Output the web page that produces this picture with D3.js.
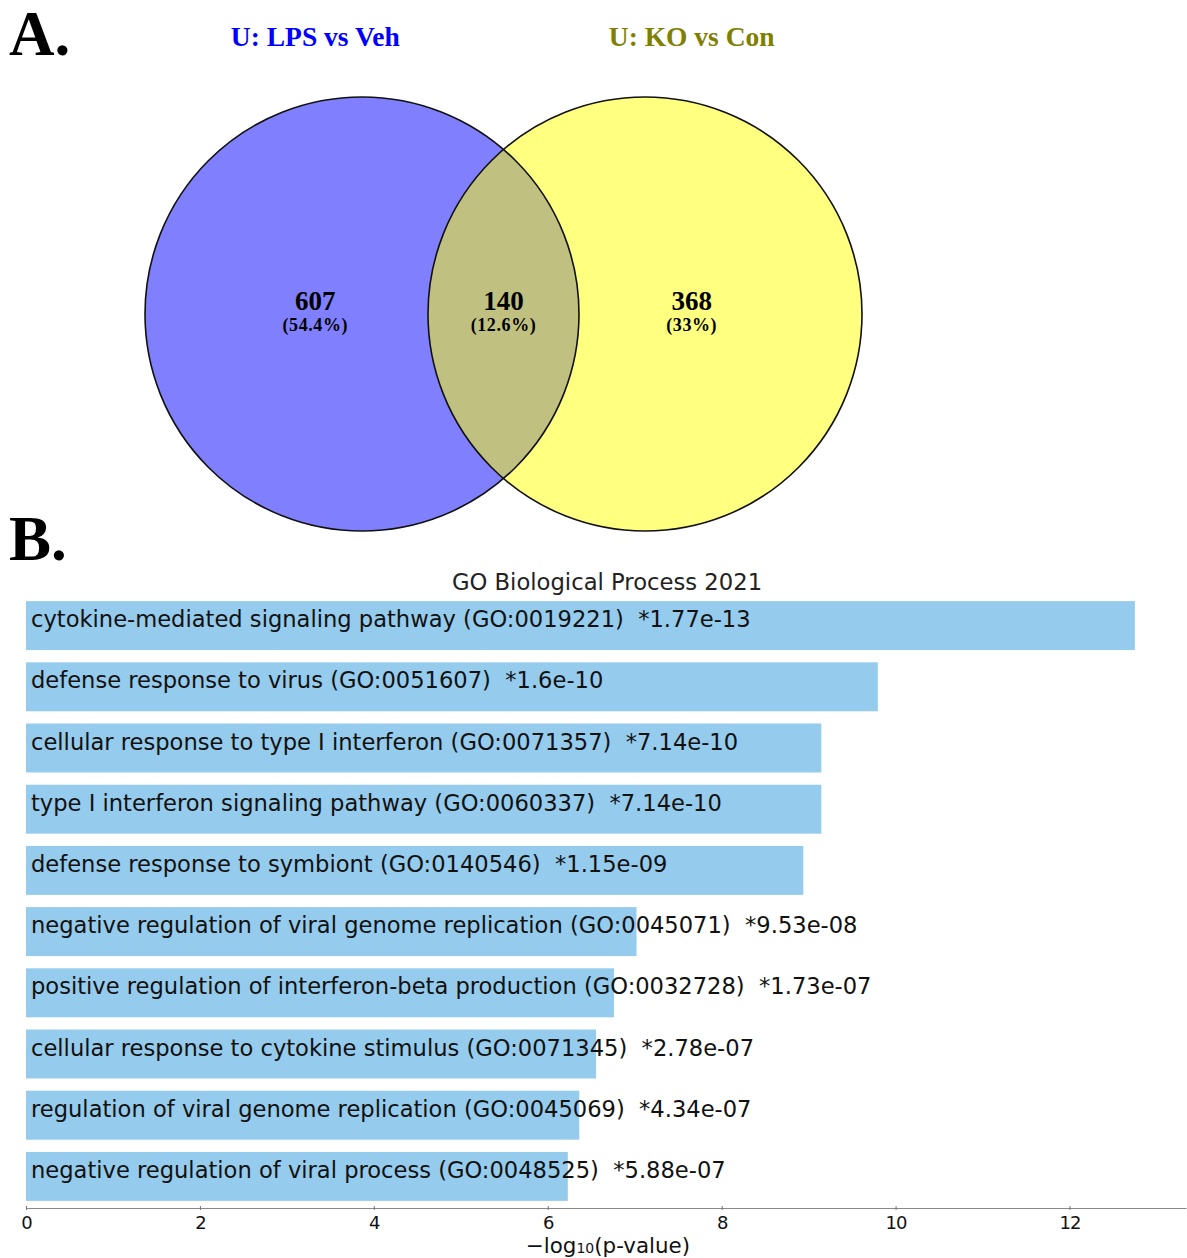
<!DOCTYPE html>
<html>
<head>
<meta charset="utf-8">
<script src="https://cdn.jsdelivr.net/npm/d3@7"></script>
<style>
  body { margin: 0; background: #fff; }
  svg { display: block; }
</style>
</head>
<body>
<div id="chart"></div>
<script>
// Venn data
const setNames = ["U: LPS vs Veh", "U: KO vs Con"];
const setColors = ["#0000ff", "#808000"];
const circleFills = ["#8080ff", "#ffff80"];
const regionCounts = [607, 140, 368];
const regionPercents = ["54.4%", "12.6%", "33%"];

// GO enrichment data
const terms = [
  "cytokine-mediated signaling pathway (GO:0019221)",
  "defense response to virus (GO:0051607)",
  "cellular response to type I interferon (GO:0071357)",
  "type I interferon signaling pathway (GO:0060337)",
  "defense response to symbiont (GO:0140546)",
  "negative regulation of viral genome replication (GO:0045071)",
  "positive regulation of interferon-beta production (GO:0032728)",
  "cellular response to cytokine stimulus (GO:0071345)",
  "regulation of viral genome replication (GO:0045069)",
  "negative regulation of viral process (GO:0048525)"
];
const pValues = ["1.77e-13", "1.6e-10", "7.14e-10", "7.14e-10", "1.15e-09",
                 "9.53e-08", "1.73e-07", "2.78e-07", "4.34e-07", "5.88e-07"];
const xTicks = [0, 2, 4, 6, 8, 10, 12];

const W = 1187, H = 1258;
const svg = d3.select("#chart").append("svg")
    .attr("width", W).attr("height", H);

const serif = "'Liberation Serif', 'Times New Roman', serif";
const sans = "'DejaVu Sans', sans-serif";

// ---------- panel letters ----------
svg.append("text").attr("x", 9).attr("y", 55).text("A.")
    .style("font-family", serif).style("font-weight", "bold").style("font-size", "63px");
svg.append("text").attr("x", 9).attr("y", 560).text("B.")
    .style("font-family", serif).style("font-weight", "bold").style("font-size", "63px");

// ---------- Venn ----------
// unit coordinates: circle centres at 0 and 1
const vx = d3.scaleLinear().domain([0, 1]).range([362, 645]);
const vr = 217, vcy = 314;
const circles = [0, 1];

const vennG = svg.append("g");
vennG.selectAll("circle.fill").data(circles).enter().append("circle")
    .attr("cx", d => vx(d)).attr("cy", vcy).attr("r", vr)
    .attr("fill", (d, i) => circleFills[i]);

// intersection
const clip = svg.append("defs").append("clipPath").attr("id", "clipL");
clip.append("circle").attr("cx", vx(0)).attr("cy", vcy).attr("r", vr);
vennG.append("circle").attr("cx", vx(1)).attr("cy", vcy).attr("r", vr)
    .attr("clip-path", "url(#clipL)").attr("fill", "#c0c080");

vennG.selectAll("circle.edge").data(circles).enter().append("circle")
    .attr("cx", d => vx(d)).attr("cy", vcy).attr("r", vr)
    .attr("fill", "none").attr("stroke", "#111").attr("stroke-width", 1.6);

const titlePos = [-0.165, 1.165];
svg.selectAll("text.setname").data(setNames).enter().append("text")
    .attr("x", (d, i) => vx(titlePos[i])).attr("y", 46)
    .attr("text-anchor", "middle")
    .style("font-family", serif).style("font-weight", "bold").style("font-size", "27.5px")
    .style("fill", (d, i) => setColors[i])
    .text(d => d);

const regionPos = [-0.165, 0.5, 1.165];
const rg = svg.selectAll("g.region").data(regionCounts).enter().append("g")
    .attr("transform", (d, i) => `translate(${vx(regionPos[i])},0)`);
rg.append("text").attr("y", 310).attr("text-anchor", "middle")
    .style("font-family", serif).style("font-weight", "bold").style("font-size", "27px")
    .text(d => d);
rg.append("text").attr("y", 331).attr("text-anchor", "middle")
    .style("font-family", serif).style("font-weight", "bold").style("font-size", "18px")
    .style("letter-spacing", "0.6px")
    .text((d, i) => `(${regionPercents[i]})`);

// ---------- bar chart ----------
const data = terms.map((t, i) => ({ term: t, p: pValues[i], v: -Math.log10(+pValues[i]) }));

const x = d3.scaleLinear().domain([0, 13.34]).range([26, 1186]);
const y = d3.scaleBand().domain(terms).range([595, 1207])
    .paddingInner(0.2).paddingOuter(0.1);

svg.append("text").attr("x", 607).attr("y", 590).attr("text-anchor", "middle")
    .style("font-family", sans).style("font-size", "22.7px").style("fill", "#222")
    .text("GO Biological Process 2021");

svg.selectAll("rect.bar").data(data).enter().append("rect")
    .attr("class", "bar")
    .attr("x", x(0)).attr("y", d => y(d.term))
    .attr("width", d => x(d.v) - x(0)).attr("height", y.bandwidth())
    .attr("fill", "#95cbec");

svg.selectAll("text.lab").data(data).enter().append("text")
    .attr("x", x(0) + 5).attr("y", d => y(d.term) + 26)
    .style("font-family", sans).style("font-size", "22.6px").style("fill", "#111")
    .text(d => `${d.term}  *${d.p}`)
    .attr("xml:space", "preserve");

const xAxis = svg.append("g").attr("class", "x-axis").attr("transform", "translate(0,1208)");
xAxis.call(d3.axisBottom(x).tickValues(xTicks).tickSize(2).tickPadding(6).tickSizeOuter(0));
xAxis.attr("font-size", 18).attr("font-family", "DejaVu Sans");
xAxis.select(".domain").attr("stroke", "#888").attr("stroke-width", 1.2);
xAxis.selectAll(".tick line").attr("stroke", "#777").attr("y1", -2);
d3.selectAll(".x-axis .tick text")
    .style("font-size", "18px").style("letter-spacing", "-1px").style("fill", "#111");

const xl = svg.append("text").attr("x", 608).attr("y", 1253).attr("text-anchor", "middle")
    .style("font-family", sans).style("font-size", "21.4px").style("fill", "#111");
xl.append("tspan").text("\u2212log");
xl.append("tspan").style("font-size", "14px").text("10");
xl.append("tspan").text("(p-value)");
</script>
</body>
</html>
